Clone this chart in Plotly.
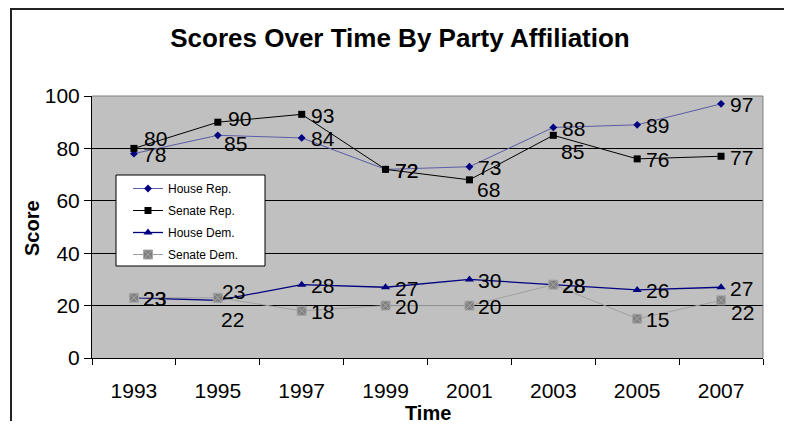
import plotly.graph_objects as go

years = ["1993", "1995", "1997", "1999", "2001", "2003", "2005", "2007"]
house_rep = [78, 85, 84, 72, 73, 88, 89, 97]
senate_rep = [80, 90, 93, 72, 68, 85, 76, 77]
house_dem = [23, 22, 28, 27, 30, 28, 26, 27]
senate_dem = [23, 23, 18, 20, 20, 28, 15, 22]
series_names = ["House Rep.", "Senate Rep.", "House Dem.", "Senate Dem."]

FONT = "Liberation Sans, Arial, sans-serif"
OFF = 8  # page body margin
W, H = 792 - OFF, 429 - 2 * OFF
ML, MR, MT = 92 - OFF, 29, 96 - OFF
MB = H - (358 - OFF)
PW, PH = W - ML - MR, H - MT - MB


def px_x(px):
    return (px - OFF - ML) / PW


def px_y(py):
    return (H - MB - (py - OFF)) / PH


# label offsets (dx right, dy down) in pixels, per series / point
default_off = (9, 0)
label_off = {
    "House Rep.": {1: (6, 7)},
    "Senate Rep.": {0: (10, -11), 1: (10, -5), 4: (8, 9), 5: (8, 15)},
    "House Dem.": {1: (3, 18)},
    "Senate Dem.": {1: (4, -7), 7: (10, 11)},
}

styles = {
    "House Rep.": dict(line=dict(color="#5C5CA8", width=1),
                       marker=dict(symbol="diamond", size=6, color="#000080")),
    "Senate Rep.": dict(line=dict(color="#000000", width=1),
                        marker=dict(symbol="square", size=7, color="#000000")),
    "House Dem.": dict(line=dict(color="#000080", width=1.3),
                       marker=dict(symbol="triangle-up", size=8, color="#000080")),
    "Senate Dem.": dict(line=dict(color="#A0A0A0", width=1),
                        marker=dict(symbol="square-x", size=9, color="#808080",
                                    line=dict(color="#A6A6A6", width=1))),
}

fig = go.Figure()
annotations = []
for name, vals in zip(series_names, [house_rep, senate_rep, house_dem, senate_dem]):
    fig.add_trace(go.Scatter(
        x=years, y=vals, name=name, mode="lines+markers",
        legendgroup=name, **styles[name],
    ))
    for i, v in enumerate(vals):
        dx, dy = label_off[name].get(i, default_off)
        annotations.append(dict(
            x=i, y=v, xref="x", yref="y", text=str(v), showarrow=False,
            xanchor="left", yanchor="middle", xshift=dx - 2, yshift=-dy - 1,
            font=dict(family=FONT, size=21, color="#000000"),
        ))

shapes = [
    # outer chart border
    dict(type="rect", xref="paper", yref="paper",
         x0=px_x(11), x1=px_x(787), y0=px_y(445), y1=px_y(9),
         line=dict(color="#222222", width=2), fillcolor="rgba(0,0,0,0)", layer="below"),
    # plot area top & right gray border
    dict(type="line", xref="paper", yref="paper", x0=0, x1=1, y0=1, y1=1,
         line=dict(color="#808080", width=1), layer="above"),
    dict(type="line", xref="paper", yref="paper", x0=1, x1=1, y0=0, y1=1,
         line=dict(color="#808080", width=1), layer="above"),
    # legend box
    dict(type="rect", xref="paper", yref="paper",
         x0=px_x(116), x1=px_x(265), y0=px_y(266), y1=px_y(175),
         line=dict(color="#000000", width=1), fillcolor="#FFFFFF", layer="above"),
]

annotations += [
    dict(text="<b>Time</b>", xref="paper", yref="paper", x=0.5, y=px_y(413),
         showarrow=False, font=dict(family=FONT, size=20, color="#000000"),
         xanchor="center", yanchor="middle"),
    dict(text="<b>Score</b>", xref="paper", yref="paper", x=px_x(32), y=px_y(228),
         showarrow=False, textangle=-90, font=dict(family=FONT, size=20, color="#000000"),
         xanchor="center", yanchor="middle"),
]

fig.update_layout(
    width=W, height=H,
    margin=dict(l=ML, r=MR, t=MT, b=MB, pad=0, autoexpand=False),
    paper_bgcolor="#FFFFFF", plot_bgcolor="#C0C0C0",
    font=dict(family=FONT, color="#000000"),
    title=dict(text="<b>Scores Over Time By Party Affiliation</b>",
               font=dict(family=FONT, size=26, color="#000000"),
               x=(400 - OFF) / W, xanchor="center", xref="container",
               y=1 - (38 - OFF) / H, yanchor="middle", yref="container"),
    showlegend=True,
    legend=dict(x=px_x(128), y=px_y(174), xanchor="left", yanchor="top",
                bgcolor="rgba(0,0,0,0)", borderwidth=0,
                font=dict(family=FONT, size=12, color="#000000"),
                traceorder="grouped", tracegroupgap=3),
    shapes=shapes,
    annotations=annotations,
    xaxis=dict(type="category", categoryorder="array", categoryarray=years,
               range=[-0.5, len(years) - 0.5], autorange=False,
               showgrid=False, zeroline=False, showline=True, linecolor="#000000", linewidth=1,
               ticks="outside", tickson="boundaries", ticklen=6, tickcolor="#000000",
               tickfont=dict(family=FONT, size=21, color="#000000"), tickangle=0,
               ticklabelstandoff=14, fixedrange=True, automargin=False),
    yaxis=dict(range=[0, 100], dtick=20, showgrid=True, gridcolor="#000000", gridwidth=1,
               zeroline=False, showline=True, linecolor="#000000", linewidth=1,
               ticks="outside", ticklen=7, tickcolor="#000000", automargin=False,
               tickfont=dict(family=FONT, size=21, color="#000000"), fixedrange=True),
)

fig.write_html("out.html")
